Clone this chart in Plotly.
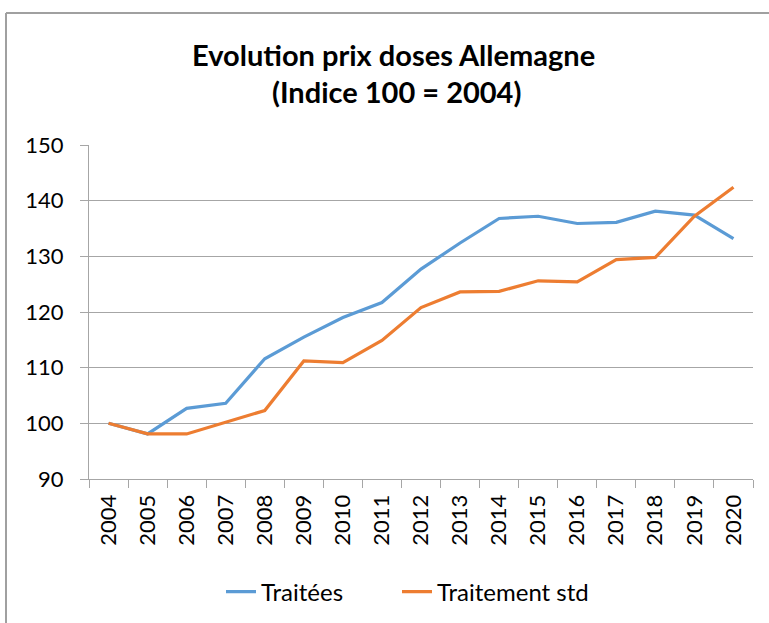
import plotly.graph_objects as go

years = [str(y) for y in range(2004, 2021)]
traitees = [100.0, 98.1, 102.7, 103.6, 111.6, 115.5, 119.0, 121.7, 127.7, 132.4,
            136.8, 137.2, 135.9, 136.1, 138.1, 137.4, 133.2]
traitement_std = [100.0, 98.1, 98.1, 100.2, 102.3, 111.2, 110.9, 114.9, 120.8, 123.6,
                  123.7, 125.6, 125.4, 129.4, 129.8, 137.2, 142.4]
y_ticks = [90, 100, 110, 120, 130, 140, 150]

W, H = 769, 623
L, R, T, B = 89, 16, 145, 144
pw, ph = W - L - R, H - T - B


def px(x):
    return (x - L) / pw


def py(y):
    return (H - B - y) / ph


FONT = "Lato"

fig = go.Figure()
fig.add_trace(go.Scatter(x=years, y=traitees, mode="lines", name="Traitées",
                         line=dict(color="#5B9BD5", width=3.2), legend="legend"))
fig.add_trace(go.Scatter(x=years, y=traitement_std, mode="lines", name="Traitement std",
                         line=dict(color="#ED7D31", width=3.2), legend="legend2"))

leg_common = dict(orientation="h", yanchor="middle", xanchor="left",
                  font=dict(family=FONT, size=24, color="black"),
                  bgcolor="rgba(0,0,0,0)", borderwidth=0)

fig.update_layout(
    width=W, height=H,
    margin=dict(l=L, r=R, t=T, b=B, autoexpand=False),
    paper_bgcolor="white", plot_bgcolor="white",
    font=dict(family=FONT, size=22, color="black"),
    showlegend=True,
    legend=dict(x=px(221), y=py(592), **leg_common),
    legend2=dict(x=px(397), y=py(592), **leg_common),
    xaxis=dict(type="category", range=[-0.5, len(years) - 0.5], tickson="boundaries",
               ticks="outside", ticklen=8,
               tickcolor="#A6A6A6", tickwidth=1, showgrid=False, showline=True,
               linecolor="#A6A6A6", linewidth=1, tickangle=-90, automargin=False,
               tickfont=dict(family=FONT, size=22), ticklabelstandoff=6),
    yaxis=dict(range=[90, 150], tickvals=y_ticks, ticks="outside", ticklen=8,
               tickcolor="#A6A6A6", tickwidth=1, showgrid=True, gridcolor="#A6A6A6",
               gridwidth=1, showline=True, linecolor="#A6A6A6", linewidth=1,
               zeroline=False, automargin=False, tickfont=dict(family=FONT, size=22),
               ticklabelstandoff=12),
    annotations=[
        dict(text="<b>Evolution prix doses Allemagne</b>", xref="paper", yref="paper",
             x=px(393), y=py(54), xanchor="center", yanchor="middle", showarrow=False,
             font=dict(family=FONT, size=29, color="black")),
        dict(text="<b>(Indice 100 = 2004)</b>", xref="paper", yref="paper",
             x=px(396), y=py(92), xanchor="center", yanchor="middle", showarrow=False,
             font=dict(family=FONT, size=29, color="black")),
    ],
    shapes=[
        dict(type="line", xref="paper", yref="paper", x0=px(6), x1=px(W + 5), y0=py(13), y1=py(13),
             line=dict(color="#A0A0A0", width=2)),
        dict(type="line", xref="paper", yref="paper", x0=px(6), x1=px(6), y0=py(13), y1=py(H + 5),
             line=dict(color="#A0A0A0", width=2)),
    ],
)

fig.write_html("out.html", config={"displayModeBar": False},
               post_script="document.body.style.margin='0';document.body.style.overflow='hidden';")
